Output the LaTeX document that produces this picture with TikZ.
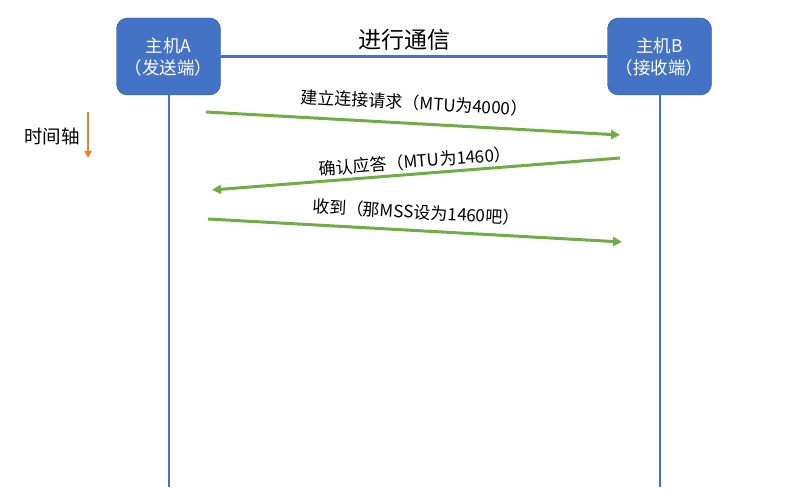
\documentclass[tikz,border=0pt]{standalone}
\usepackage{fontspec}
\setmainfont{Noto Sans CJK SC}
\usetikzlibrary{arrows.meta}
\definecolor{hostblue}{HTML}{4472C4}
\definecolor{hostedge}{HTML}{2F528F}
\definecolor{msggreen}{HTML}{70AD47}
\definecolor{timeorange}{HTML}{ED7D31}

\begin{document}
\begin{tikzpicture}[x=1pt,y=-1pt,
	host/.style={draw=hostedge,fill=hostblue,text=white,rounded corners=11pt,minimum width=104pt,minimum height=77pt,align=center,font=\fontsize{17.5}{22}\selectfont},
	life/.style={hostblue,line width=2pt},
	msg/.style={msggreen,line width=3pt,-{Triangle[length=9pt,width=9pt]}},
	msglbl/.style={sloped,text=black,font=\fontsize{17}{20}\selectfont,inner sep=2pt}]
\useasboundingbox (0,0) rectangle (809,502);
\node[host] (hostA) at (168.5,56.5) {主机A\\（发送端）};
\node[host] (hostB) at (659.5,56.5) {主机B\\（接收端）};
\draw[hostblue,line width=3pt] (hostA) -- (hostB);
\node[font=\fontsize{23}{26}\selectfont] (talk) at (404,40) {进行通信};
\coordinate (endA) at (168.5,487);
\coordinate (endB) at (659.5,487);
\draw[life] (hostA.south) -- (endA);
\draw[life] (hostB.south) -- (endB);
\node[font=\fontsize{18.5}{20}\selectfont] (timelbl) at (52,136) {时间轴};
\coordinate (time0) at (88,112);
\coordinate (time1) at (88,158);
\draw[timeorange,line width=2pt,-{Triangle[length=7pt,width=7pt]}] (time0) -- (time1);
\foreach \n/\sx/\sy/\ex/\ey/\up/\txt in {1/206/112/620/135/9/建立连接请求（MTU为4000）,
		2/620/158/212/190/1/确认应答（MTU为1460）,
		3/208/219/622/242/7/收到（那MSS设为1460吧）} {
		\coordinate (start\n) at (\sx,\sy);
		\coordinate (end\n) at (\ex,\ey);
		\draw[msg] (start\n) -- node[msglbl,above=\up pt] (lbl\n) {\txt} (end\n);
}
\end{tikzpicture}
\end{document}
